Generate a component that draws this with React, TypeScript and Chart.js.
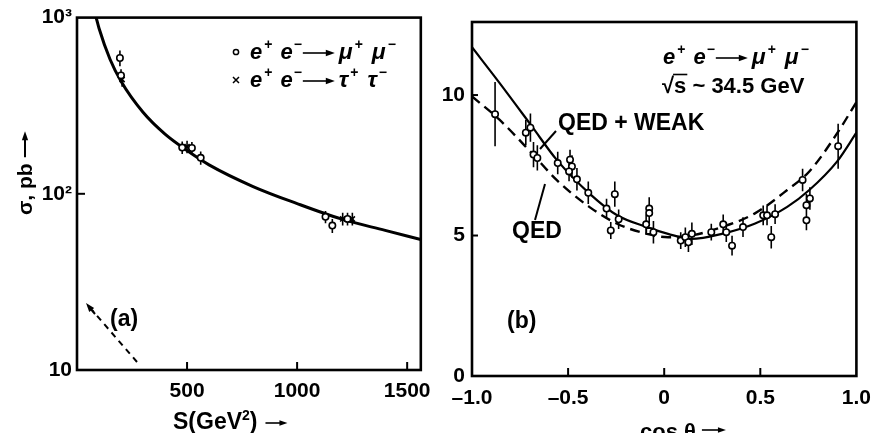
import React, { useEffect, useRef } from 'react';
import { Chart, registerables } from 'chart.js';

Chart.register(...registerables);

const FONT = "'Liberation Sans', Arial, Helvetica, sans-serif";

// ---------- Panel (a): sigma vs s ----------
const sTicks = [500, 1000, 1500];
const sTickLabels = ['500', '1000', '1500'];
const sigmaTicks = [10, 100, 1000];
const sigmaTickLabels = ['10', '10²', '10³'];
const curveS = [87, 100, 150, 200, 300, 400, 500, 600, 800, 1000, 1200, 1400, 1562];
const curveSigma = [1000, 870, 580, 435, 290, 218, 176, 146, 110, 88, 72, 62, 55];
const muS = [195, 200, 478, 522, 562, 1129, 1160, 1229];
const muSigma = [590, 470, 183, 182, 160, 74, 66, 72];
const muSigmaErr = [60, 40, 15, 15, 14, 6, 6, 6];
const tauS = [205, 500, 1207, 1251];
const tauSigma = [445, 185, 72, 72];
const tauSigmaErr = [40, 15, 6, 6];

// ---------- Panel (b): angular distribution ----------
const cosTicks = [-1, -0.5, 0, 0.5, 1];
const cosTickLabels = ['–1.0', '–0.5', '0', '0.5', '1.0'];
const dsTicks = [0, 5, 10];
const dsTickLabels = ['0', '5', '10'];
const curveCos = [-1.0, -0.86, -0.69, -0.56, -0.39, -0.245, -0.09, 0.02, 0.14, 0.3, 0.47, 0.64, 0.755, 0.9, 1.0];
const qedWeak = [11.7, 10.46, 8.9, 7.7, 6.5, 5.72, 5.3, 5.06, 4.88, 5.06, 5.42, 6.02, 6.62, 7.64, 8.66];
const qedOnly = [9.95, 9.14, 7.94, 6.98, 6.02, 5.42, 5.06, 4.94, 5.0, 5.3, 5.78, 6.62, 7.28, 8.64, 9.75];
const dataCos = [-0.88, -0.72, -0.696, -0.68, -0.66, -0.554, -0.49, -0.48, -0.495, -0.454, -0.395, -0.3, -0.278, -0.257, -0.237, -0.094, -0.078, -0.078, -0.056, 0.086, 0.11, 0.126, 0.144, 0.245, 0.307, 0.323, 0.353, 0.41, 0.515, 0.535, 0.557, 0.577, 0.72, 0.74, 0.74, 0.758, 0.905];
const dataVal = [9.32, 8.66, 8.84, 7.88, 7.76, 7.58, 7.7, 7.46, 7.28, 7.0, 6.52, 5.96, 5.18, 6.47, 5.58, 5.4, 5.96, 5.8, 5.12, 4.82, 4.94, 4.76, 5.06, 5.12, 5.4, 5.12, 4.64, 5.3, 5.72, 5.72, 4.94, 5.76, 6.98, 6.08, 5.54, 6.32, 8.18];
const dataErr = [1.14, 0.45, 0.5, 0.45, 0.45, 0.4, 0.35, 0.4, 0.35, 0.4, 0.4, 0.35, 0.3, 0.45, 0.35, 0.35, 0.4, 0.35, 0.4, 0.3, 0.35, 0.35, 0.4, 0.3, 0.35, 0.35, 0.35, 0.35, 0.35, 0.35, 0.4, 0.35, 0.4, 0.4, 0.35, 0.4, 0.8];
const squareCos = [-0.078];
const squareVal = [5.16];

const pts = (xs: number[], ys: number[]) => xs.map((x, i) => ({ x, y: ys[i] }));
const errSegments = (xs: number[], ys: number[], es: number[]) => {
  const out: any[] = [];
  xs.forEach((x, i) => {
    out.push({ x, y: ys[i] - es[i] }, { x, y: ys[i] + es[i] }, { x, y: null });
  });
  return out;
};

type Part = { t?: string; size?: number; dy?: number; italic?: boolean; arrow?: number; gap?: number };

function drawArrow(ctx: CanvasRenderingContext2D, x1: number, y1: number, x2: number, y2: number, head = 8, lw = 1.6) {
  const a = Math.atan2(y2 - y1, x2 - x1);
  ctx.save();
  ctx.lineWidth = lw;
  ctx.strokeStyle = '#000';
  ctx.fillStyle = '#000';
  ctx.beginPath();
  ctx.moveTo(x1, y1);
  ctx.lineTo(x2 - Math.cos(a) * head * 0.8, y2 - Math.sin(a) * head * 0.8);
  ctx.stroke();
  ctx.beginPath();
  ctx.moveTo(x2, y2);
  ctx.lineTo(x2 - Math.cos(a) * head + Math.sin(a) * head * 0.35, y2 - Math.sin(a) * head - Math.cos(a) * head * 0.35);
  ctx.lineTo(x2 - Math.cos(a) * head - Math.sin(a) * head * 0.35, y2 - Math.sin(a) * head + Math.cos(a) * head * 0.35);
  ctx.closePath();
  ctx.fill();
  ctx.restore();
}

function drawRich(ctx: CanvasRenderingContext2D, x: number, y: number, parts: Part[]) {
  let cx = x;
  ctx.textAlign = 'left';
  ctx.textBaseline = 'alphabetic';
  ctx.fillStyle = '#000';
  for (const p of parts) {
    if (p.gap) { cx += p.gap; continue; }
    if (p.arrow) {
      drawArrow(ctx, cx, y - 6, cx + p.arrow, y - 6, 9, 1.6);
      cx += p.arrow;
      continue;
    }
    ctx.font = `${p.italic ? 'italic ' : ''}bold ${p.size || 20}px ${FONT}`;
    ctx.fillText(p.t || '', cx, y + (p.dy || 0));
    cx += ctx.measureText(p.t || '').width;
  }
  return cx;
}

const reaction = (final: string): Part[] => [
  { t: 'e', size: 22, italic: true },
  { gap: 2 },
  { t: '+', size: 14, dy: -10 },
  { gap: 8 },
  { t: 'e', size: 22, italic: true },
  { gap: 1 },
  { t: '−', size: 14, dy: -10 },
  { gap: 1 },
  { arrow: 32 },
  { gap: 4 },
  { t: final, size: 23, italic: true },
  { gap: 2 },
  { t: '+', size: 14, dy: -10 },
  { gap: 9 },
  { t: final, size: 23, italic: true },
  { gap: 2 },
  { t: '−', size: 14, dy: -10 },
];

const tickFont = { family: FONT, size: 21, weight: 'bold' as const };

export default function App() {
  const leftRef = useRef<HTMLCanvasElement>(null);
  const rightRef = useRef<HTMLCanvasElement>(null);

  useEffect(() => {
    const leftPlugin = {
      id: 'leftDecor',
      afterDraw(chart: any) {
        const { ctx, chartArea: a, scales } = chart;
        ctx.save();
        ctx.strokeStyle = '#000';
        ctx.lineWidth = 2.6;
        ctx.strokeRect(a.left, a.top, a.right - a.left, a.bottom - a.top);
        ctx.lineWidth = 2;
        sTicks.forEach((v) => {
          const px = scales.x.getPixelForValue(v);
          ctx.beginPath(); ctx.moveTo(px, a.bottom); ctx.lineTo(px, a.bottom - 8); ctx.stroke();
        });
        const py = scales.y.getPixelForValue(100);
        ctx.beginPath(); ctx.moveTo(a.left, py); ctx.lineTo(a.left + 8, py); ctx.stroke();

        // legend
        ctx.lineWidth = 1.5;
        ctx.beginPath(); ctx.arc(236, 52, 2.6, 0, Math.PI * 2); ctx.stroke();
        ctx.beginPath();
        ctx.moveTo(233, 77); ctx.lineTo(239, 83); ctx.moveTo(239, 77); ctx.lineTo(233, 83);
        ctx.stroke();
        drawRich(ctx, 250, 59, reaction('μ'));
        drawRich(ctx, 250, 87, reaction('τ'));

        // (a)
        ctx.font = `bold 23px ${FONT}`;
        ctx.fillStyle = '#000';
        ctx.textBaseline = 'alphabetic';
        ctx.fillText('(a)', 110, 326);

        // dashed pointer
        ctx.save();
        ctx.setLineDash([6, 5]);
        ctx.lineWidth = 2;
        ctx.beginPath(); ctx.moveTo(137, 362); ctx.lineTo(92, 310); ctx.stroke();
        ctx.restore();
        drawArrow(ctx, 95, 314, 86, 303, 9, 2);

        // x title
        ctx.font = `bold 23px ${FONT}`;
        ctx.textBaseline = 'alphabetic';
        ctx.fillText('S(GeV', 173, 429);
        const w = ctx.measureText('S(GeV').width;
        ctx.font = `bold 14px ${FONT}`;
        ctx.fillText('2', 173 + w, 420);
        const w2 = ctx.measureText('2').width;
        ctx.font = `bold 23px ${FONT}`;
        ctx.fillText(')', 173 + w + w2, 429);
        const end = 173 + w + w2 + ctx.measureText(')').width;
        drawArrow(ctx, end + 8, 423, end + 30, 423, 8, 1.6);

        // y title (rotated)
        ctx.save();
        ctx.translate(32, 215);
        ctx.rotate(-Math.PI / 2);
        ctx.font = `bold 21px ${FONT}`;
        ctx.fillText('σ, pb', 0, 0);
        const tw = ctx.measureText('σ, pb').width;
        drawArrow(ctx, tw + 6, -7, tw + 32, -7, 9, 2);
        ctx.restore();
        ctx.restore();
      },
    };

    const rightPlugin = {
      id: 'rightDecor',
      afterDraw(chart: any) {
        const { ctx, chartArea: a, scales } = chart;
        ctx.save();
        ctx.strokeStyle = '#000';
        ctx.lineWidth = 2.6;
        ctx.strokeRect(a.left, a.top, a.right - a.left, a.bottom - a.top);
        ctx.lineWidth = 2;
        [-0.5, 0, 0.5].forEach((v) => {
          const px = scales.x.getPixelForValue(v);
          ctx.beginPath(); ctx.moveTo(px, a.bottom); ctx.lineTo(px, a.bottom - 8); ctx.stroke();
        });
        [5, 10].forEach((v) => {
          const py = scales.y.getPixelForValue(v);
          ctx.beginPath(); ctx.moveTo(a.left, py); ctx.lineTo(a.left + 6, py); ctx.stroke();
        });

        ctx.fillStyle = '#000';
        drawRich(ctx, 223, 64, reaction('μ'));

        // sqrt(s) ~ 34.5 GeV
        ctx.font = `bold 22px ${FONT}`;
        ctx.textBaseline = 'alphabetic';
        const x0 = 222;
        ctx.fillText('√', x0, 93);
        const wr = ctx.measureText('√').width;
        ctx.fillText('s', x0 + wr, 93);
        const ws = ctx.measureText('s').width;
        ctx.lineWidth = 1.6;
        ctx.beginPath(); ctx.moveTo(x0 + wr - 1, 74.5); ctx.lineTo(x0 + wr + ws + 1, 74.5); ctx.stroke();
        ctx.fillText(' ~ 34.5 GeV', x0 + wr + ws, 93);

        ctx.font = `bold 23px ${FONT}`;
        ctx.fillText('QED + WEAK', 118, 130);
        ctx.fillText('QED', 72, 238);
        ctx.fillText('(b)', 67, 328);

        ctx.lineWidth = 2;
        ctx.beginPath(); ctx.moveTo(116, 131); ctx.lineTo(100, 149); ctx.stroke();
        ctx.beginPath(); ctx.moveTo(95, 220); ctx.lineTo(105, 184); ctx.stroke();

        // x title
        ctx.font = `bold 22px ${FONT}`;
        ctx.fillText('cos θ', 200, 439);
        const wc = ctx.measureText('cos θ').width;
        drawArrow(ctx, 200 + wc + 6, 430, 200 + wc + 30, 430, 8, 1.6);
        ctx.restore();
      },
    };

    const left = new Chart(leftRef.current!, {
      type: 'scatter',
      data: {
        datasets: [
          { label: 'mu', data: pts(muS, muSigma), showLine: false, pointStyle: 'circle', pointRadius: 3.2, pointBorderWidth: 1.6, pointBackgroundColor: '#fff', pointBorderColor: '#000' },
          { label: 'tau', data: pts(tauS, tauSigma), showLine: false, pointStyle: 'crossRot', pointRadius: 3.6, pointBorderWidth: 1.6, pointBackgroundColor: '#fff', pointBorderColor: '#000' },
          { label: 'muErr', data: errSegments(muS, muSigma, muSigmaErr), showLine: true, spanGaps: false, pointRadius: 0, borderColor: '#000', borderWidth: 1.6 },
          { label: 'tauErr', data: errSegments(tauS, tauSigma, tauSigmaErr), showLine: true, spanGaps: false, pointRadius: 0, borderColor: '#000', borderWidth: 1.6 },
          { label: 'curve', data: pts(curveS, curveSigma), showLine: true, pointRadius: 0, borderColor: '#000', borderWidth: 3, cubicInterpolationMode: 'monotone' },
        ] as any,
      },
      options: {
        responsive: false,
        animation: false,
        events: [],
        layout: { padding: { left: 0, top: 15, right: 12, bottom: 0 } },
        plugins: { legend: { display: false }, tooltip: { enabled: false } },
        scales: {
          x: {
            type: 'linear',
            min: 0,
            max: 1562,
            grid: { display: false, drawTicks: false },
            border: { display: false },
            afterBuildTicks: (axis: any) => { axis.ticks = sTicks.map((v) => ({ value: v })); },
            afterFit: (axis: any) => { axis.height = 63; },
            ticks: { font: tickFont, color: '#000', padding: 9, maxRotation: 0, autoSkip: false, callback: (v: any) => sTickLabels[sTicks.indexOf(Number(v))] },
          },
          y: {
            type: 'logarithmic',
            min: 10,
            max: 1000,
            grid: { display: false, drawTicks: false },
            border: { display: false },
            afterBuildTicks: (axis: any) => { axis.ticks = sigmaTicks.map((v) => ({ value: v })); },
            afterFit: (axis: any) => { axis.width = 77; },
            ticks: { font: tickFont, color: '#000', padding: 5, autoSkip: false, callback: (v: any) => sigmaTickLabels[sigmaTicks.indexOf(Number(v))] },
          },
        },
      } as any,
      plugins: [leftPlugin],
    });

    const right = new Chart(rightRef.current!, {
      type: 'scatter',
      data: {
        datasets: [
          { label: 'data', data: pts(dataCos, dataVal), showLine: false, pointStyle: 'circle', pointRadius: 3.2, pointBorderWidth: 1.6, pointBackgroundColor: '#fff', pointBorderColor: '#000' },
          { label: 'square', data: pts(squareCos, squareVal), showLine: false, pointStyle: 'rect', pointRadius: 4, pointBorderWidth: 1.6, pointBackgroundColor: '#fff', pointBorderColor: '#000' },
          { label: 'err', data: errSegments(dataCos, dataVal, dataErr), showLine: true, spanGaps: false, pointRadius: 0, borderColor: '#000', borderWidth: 1.6 },
          { label: 'QED + WEAK', data: pts(curveCos, qedWeak), showLine: true, pointRadius: 0, borderColor: '#000', borderWidth: 2.2, cubicInterpolationMode: 'monotone' },
          { label: 'QED', data: pts(curveCos, qedOnly), showLine: true, pointRadius: 0, borderColor: '#000', borderWidth: 2.4, borderDash: [10, 6], cubicInterpolationMode: 'monotone' },
        ] as any,
      },
      options: {
        responsive: false,
        animation: false,
        events: [],
        layout: { padding: { left: 0, top: 22, right: 11, bottom: 0 } },
        plugins: { legend: { display: false }, tooltip: { enabled: false } },
        scales: {
          x: {
            type: 'linear',
            min: -1,
            max: 1,
            grid: { display: false, drawTicks: false },
            border: { display: false },
            afterBuildTicks: (axis: any) => { axis.ticks = cosTicks.map((v) => ({ value: v })); },
            afterFit: (axis: any) => { axis.height = 57; },
            ticks: { font: tickFont, color: '#000', padding: 10, maxRotation: 0, autoSkip: false, callback: (v: any) => cosTickLabels[cosTicks.indexOf(Number(v))] },
          },
          y: {
            type: 'linear',
            min: 0,
            max: 12.6,
            grid: { display: false, drawTicks: false },
            border: { display: false },
            afterBuildTicks: (axis: any) => { axis.ticks = dsTicks.map((v) => ({ value: v })); },
            afterFit: (axis: any) => { axis.width = 32; },
            ticks: { font: tickFont, color: '#000', padding: 7, autoSkip: false, callback: (v: any) => dsTickLabels[dsTicks.indexOf(Number(v))] },
          },
        },
      } as any,
      plugins: [rightPlugin],
    });

    return () => {
      left.destroy();
      right.destroy();
    };
  }, []);

  return (
    <div style={{ position: 'absolute', left: 0, top: 0, width: 881, height: 433, background: '#fff', overflow: 'hidden' }}>
      <canvas ref={leftRef} width={440} height={433} style={{ position: 'absolute', left: 0, top: 0, width: 440, height: 433 }} />
      <canvas ref={rightRef} width={441} height={433} style={{ position: 'absolute', left: 440, top: 0, width: 441, height: 433 }} />
    </div>
  );
}
